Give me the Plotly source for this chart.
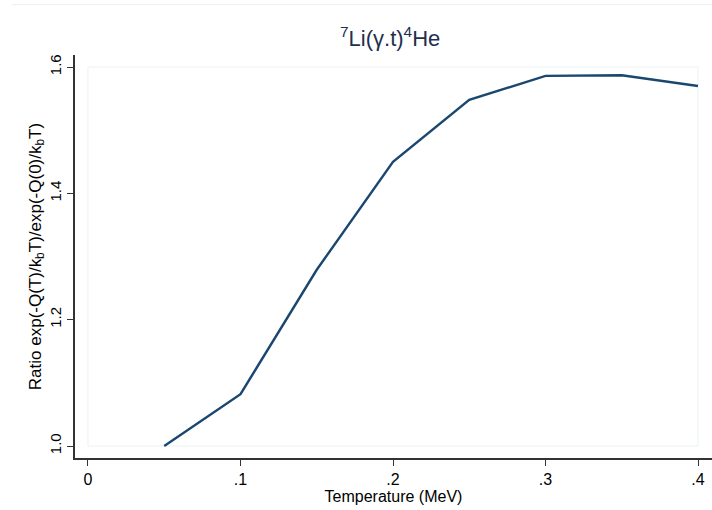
import plotly.graph_objects as go

temperature = [0.05, 0.10, 0.15, 0.20, 0.25, 0.30, 0.35, 0.40]
ratio = [1.000, 1.082, 1.279, 1.450, 1.548, 1.586, 1.587, 1.570]

x_ticks = [0, 0.1, 0.2, 0.3, 0.4]
x_labels = ["0", ".1", ".2", ".3", ".4"]
y_ticks = [1.0, 1.2, 1.4, 1.6]
y_labels = ["1.0", "1.2", "1.4", "1.6"]

line_color = "#1a476f"
font_family = "Liberation Sans, Arial, sans-serif"

fig = go.Figure()
fig.add_trace(go.Scatter(x=temperature, y=ratio, mode="lines",
                         line=dict(color=line_color, width=2.4),
                         showlegend=False, hoverinfo="x+y"))

# inner plot-region frame
fig.add_shape(type="rect", xref="x", yref="y", x0=x_ticks[0], x1=x_ticks[-1],
              y0=y_ticks[0], y1=y_ticks[-1], line=dict(color="#eaf2f3", width=1),
              layer="below")
# outer graph frame top line
fig.add_shape(type="line", xref="paper", yref="paper", x0=-0.1, x1=1.0,
              y0=1.125, y1=1.125, line=dict(color="#e8f0f0", width=1))

fig.update_layout(
    width=712, height=510,
    margin=dict(l=75, r=0, t=55, b=52),
    paper_bgcolor="white", plot_bgcolor="white",
    font=dict(family=font_family, color="#000000"),
    title=dict(text="<sup>7</sup>Li(γ.t)<sup>4</sup>He", x=0.548, xanchor="center",
               y=0.925, yanchor="middle",
               font=dict(size=22, color="#1e3050", family=font_family)),
    xaxis=dict(range=[-0.00852, 0.40918], tickvals=x_ticks, ticktext=x_labels,
               showgrid=False, zeroline=False, showline=True, linecolor="#333333",
               linewidth=1.5, ticks="outside", ticklen=6, tickcolor="#333333",
               tickfont=dict(size=16), title=dict(text="Temperature (MeV)",
               font=dict(size=16), standoff=4)),
    yaxis=dict(range=[0.981, 1.619], tickvals=y_ticks, ticktext=y_labels,
               showgrid=False, zeroline=False, showline=True, linecolor="#333333",
               linewidth=1.5, ticks="outside", ticklen=6, tickcolor="#333333",
               tickangle=-90, tickfont=dict(size=15),
               title=dict(text="Ratio exp(-Q(T)/k<sub>b</sub>T)/exp(-Q(0)/k<sub>b</sub>T)",
                          font=dict(size=17), standoff=0)),
)

fig.write_html("out.html", config={"displayModeBar": False},
               post_script="document.body.style.margin='0';document.body.style.overflow='hidden';")
